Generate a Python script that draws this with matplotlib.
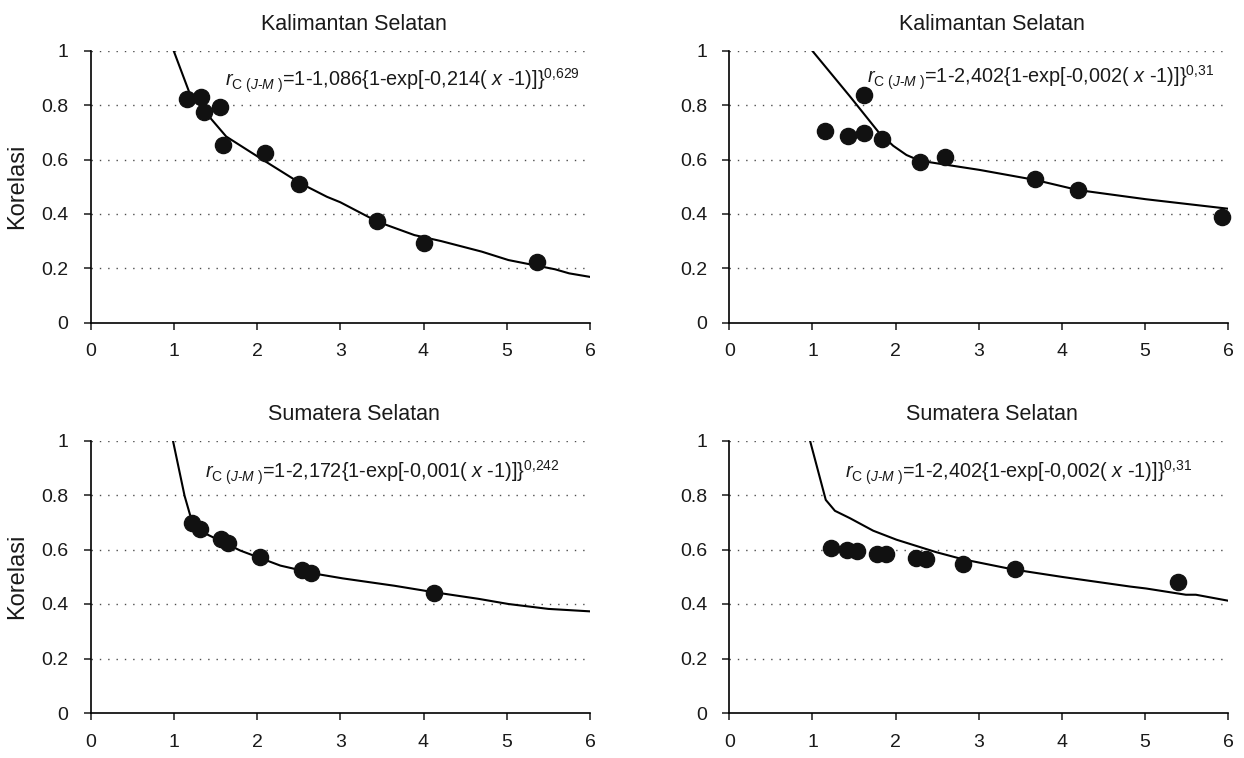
import matplotlib.pyplot as plt

plt.rcParams['font.family'] = ['Liberation Sans', 'DejaVu Sans']
plt.rcParams['mathtext.fontset'] = 'custom'
plt.rcParams['mathtext.rm'] = 'Liberation Sans'
plt.rcParams['mathtext.it'] = 'Liberation Sans:italic'

# titik observasi
kalsel1_x = [1.16, 1.33, 1.36, 1.55, 1.59, 2.10, 2.51, 3.44, 4.01, 5.36]
kalsel1_y = [0.825, 0.830, 0.776, 0.792, 0.654, 0.624, 0.511, 0.374, 0.294, 0.224]
kalsel2_x = [1.15, 1.43, 1.62, 1.62, 1.84, 2.29, 2.59, 3.68, 4.19, 5.93]
kalsel2_y = [0.707, 0.687, 0.839, 0.697, 0.676, 0.593, 0.611, 0.530, 0.487, 0.389]
sumsel1_x = [1.22, 1.31, 1.57, 1.65, 2.04, 2.54, 2.65, 4.13]
sumsel1_y = [0.696, 0.675, 0.638, 0.624, 0.571, 0.526, 0.514, 0.441]
sumsel2_x = [1.22, 1.42, 1.54, 1.78, 1.89, 2.24, 2.36, 2.81, 3.44, 5.39]
sumsel2_y = [0.606, 0.600, 0.594, 0.582, 0.582, 0.570, 0.564, 0.545, 0.527, 0.481]

# garis model
kalsel1_cx = [1.00, 1.19, 1.39, 1.63, 2.04, 2.52, 2.84, 3.00, 3.45, 3.89, 4.21, 4.70, 5.02, 5.58, 5.75, 6.00]
kalsel1_cy = [1.00, 0.845, 0.771, 0.685, 0.605, 0.513, 0.463, 0.443, 0.371, 0.322, 0.300, 0.261, 0.230, 0.196, 0.181, 0.168]
kalsel2_cx = [1.00, 1.45, 1.79, 1.97, 2.13, 2.29, 3.01, 3.68, 4.19, 5.01, 6.00]
kalsel2_cy = [1.00, 0.833, 0.703, 0.651, 0.617, 0.596, 0.562, 0.525, 0.488, 0.454, 0.419]
sumsel1_cx = [0.99, 1.13, 1.21, 1.39, 1.80, 2.28, 2.72, 3.03, 3.65, 4.13, 4.66, 5.02, 5.50, 6.00]
sumsel1_cy = [1.00, 0.797, 0.712, 0.657, 0.596, 0.541, 0.510, 0.494, 0.467, 0.443, 0.419, 0.400, 0.382, 0.373]
sumsel2_cx = [0.97, 1.16, 1.27, 1.45, 1.73, 2.01, 2.49, 2.81, 3.41, 4.01, 4.82, 5.01, 5.49, 5.61, 6.00]
sumsel2_cy = [1.00, 0.782, 0.742, 0.715, 0.669, 0.636, 0.590, 0.564, 0.527, 0.499, 0.464, 0.457, 0.434, 0.434, 0.412]

titles = ['Kalimantan Selatan', 'Kalimantan Selatan', 'Sumatera Selatan', 'Sumatera Selatan']
sub = r'$r_{\mathrm{C\ (}J\text{-}M\mathrm{\ )}}$'
formulas = [sub + r'=1-1,086{1-exp[-0,214( $x$ -1)]}$^{0{,}629}$',
            sub + r'=1-2,402{1-exp[-0,002( $x$ -1)]}$^{0{,}31}$',
            sub + r'=1-2,172{1-exp[-0,001( $x$ -1)]}$^{0{,}242}$',
            sub + r'=1-2,402{1-exp[-0,002( $x$ -1)]}$^{0{,}31}$']
formula_pos = [(1.61, 0.89), (1.65, 0.90), (1.37, 0.88), (1.39, 0.88)]

points = [(kalsel1_x, kalsel1_y), (kalsel2_x, kalsel2_y), (sumsel1_x, sumsel1_y), (sumsel2_x, sumsel2_y)]
curves = [(kalsel1_cx, kalsel1_cy), (kalsel2_cx, kalsel2_cy), (sumsel1_cx, sumsel1_cy), (sumsel2_cx, sumsel2_cy)]

fig = plt.figure(figsize=(12.44, 7.58), dpi=100)
W, H = 1244, 758
boxes = [(90.5, 51, 590, 322.5), (729.3, 51, 1228.3, 322.5),
         (90.5, 440.5, 590, 713), (729.3, 440.5, 1228.3, 713)]

for i in range(4):
    l, t, r, b = boxes[i]
    ax = fig.add_axes([l / W, 1 - b / H, (r - l) / W, (b - t) / H])
    ax.set_xlim(0, 6)
    ax.set_ylim(0, 1)
    ax.set_xticks(range(7))
    ax.set_yticks([0, 0.2, 0.4, 0.6, 0.8, 1])
    ax.set_yticklabels(['0', '0.2', '0.4', '0.6', '0.8', '1'])
    for y in [0.2, 0.4, 0.6, 0.8, 1.0]:
        ax.axhline(y, color='0.3', lw=1.0, ls=(0, (1, 5)), zorder=0)
    ax.plot(curves[i][0], curves[i][1], color='black', lw=1.5, zorder=2)
    ax.scatter(points[i][0], points[i][1], s=135, color='#111111', zorder=3, clip_on=False)
    ax.spines['top'].set_visible(False)
    ax.spines['right'].set_visible(False)
    ax.spines['left'].set_linewidth(1.2)
    ax.spines['bottom'].set_linewidth(1.2)
    ax.tick_params(direction='out', length=5, width=1.1, labelsize=14, colors='#1a1a1a')
    ax.tick_params(axis='x', pad=10)
    ax.tick_params(axis='y', pad=11)
    ax.set_title(titles[i], fontsize=15.5, pad=15, color='#1a1a1a', x=0.527)
    if i % 2 == 0:
        ax.set_ylabel('Korelasi', fontsize=17, labelpad=9, color='#1a1a1a')
    ax.text(formula_pos[i][0], formula_pos[i][1], formulas[i], fontsize=14.3, va='center', ha='left', color='#1a1a1a')

plt.savefig('out.png', dpi=100)
